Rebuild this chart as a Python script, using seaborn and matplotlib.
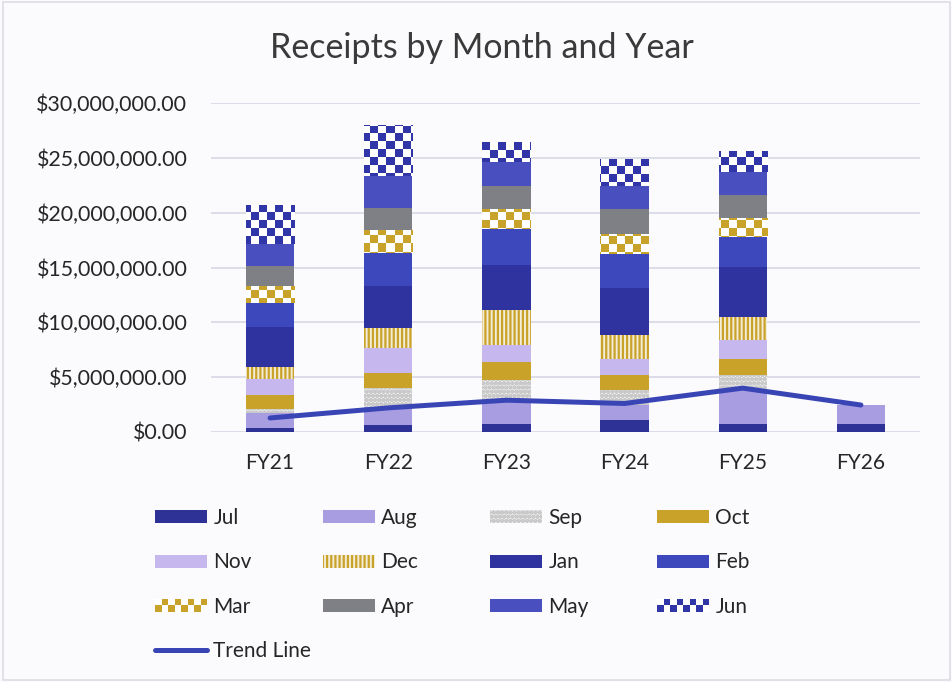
import numpy as np
import pandas as pd
import matplotlib
matplotlib.use("Agg")
import matplotlib.pyplot as plt
from matplotlib.patches import Patch, Rectangle
from matplotlib.lines import Line2D
from matplotlib.legend_handler import HandlerBase
import seaborn as sns

# ---------------- data ----------------
years = ["FY21", "FY22", "FY23", "FY24", "FY25", "FY26"]
months = ["Jul", "Aug", "Sep", "Oct", "Nov", "Dec", "Jan", "Feb", "Mar", "Apr", "May", "Jun"]

jul = [0.40, 0.60, 0.70, 1.07, 0.76, 0.76]
aug = [1.33, 1.70, 2.00, 1.43, 3.04, 1.67]
sep = [0.40, 1.70, 2.00, 1.30, 1.37, 0.0]
oct_ = [1.20, 1.40, 1.70, 1.37, 1.50, 0.0]
nov = [1.50, 2.30, 1.50, 1.50, 1.70, 0.0]
dec = [1.10, 1.80, 3.20, 2.20, 2.10, 0.0]
jan = [3.60, 3.80, 4.10, 4.30, 4.60, 0.0]
feb = [2.20, 3.00, 3.30, 3.10, 2.70, 0.0]
mar = [1.60, 2.10, 1.80, 1.80, 1.70, 0.0]
apr = [1.80, 2.00, 2.10, 2.30, 2.10, 0.0]
may = [2.00, 2.90, 2.20, 2.10, 2.10, 0.0]
jun = [3.60, 4.70, 1.80, 2.40, 1.95, 0.0]
trend = [1.28, 2.20, 2.90, 2.60, 4.00, 2.46]  # millions

series = [jul, aug, sep, oct_, nov, dec, jan, feb, mar, apr, may, jun]

styles = {
    "Jul": dict(face="#2e3196", hc="#2e3196", hatch=None, checker=None),
    "Aug": dict(face="#a99de2", hc="#a99de2", hatch=None, checker=None),
    "Sep": dict(face="#f2f2f2", hc="#c9c9c9", hatch="oooo", checker=None),
    "Oct": dict(face="#c9a22a", hc="#c9a22a", hatch=None, checker=None),
    "Nov": dict(face="#c6b8ee", hc="#c6b8ee", hatch=None, checker=None),
    "Dec": dict(face="#f4ecd6", hc="#c9a22a", hatch="||||", checker=None),
    "Jan": dict(face="#2f33a0", hc="#2f33a0", hatch=None, checker=None),
    "Feb": dict(face="#3d48bd", hc="#3d48bd", hatch=None, checker=None),
    "Mar": dict(face="#c9a22a", hc="#c9a22a", hatch=None, checker="#c9a22a"),
    "Apr": dict(face="#7f7f86", hc="#7f7f86", hatch=None, checker=None),
    "May": dict(face="#4a4fc0", hc="#4a4fc0", hatch=None, checker=None),
    "Jun": dict(face="#3035a8", hc="#3035a8", hatch=None, checker="#3035a8"),
}

sns.set_theme(style="white")
plt.rcParams["font.family"] = ["Lato", "DejaVu Sans"]
plt.rcParams["hatch.linewidth"] = 1.6

W, H, DPI = 953, 682, 100
BG = "#fbfbfd"
fig = plt.figure(figsize=(W / DPI, H / DPI), dpi=DPI, facecolor=BG)
ax = fig.add_axes([211 / W, 1 - 432 / H, (920 - 211) / W, (432 - 103) / H])
ax.set_facecolor(BG)

YMAX = 30e6
ax.set_ylim(0, YMAX)

bottom = np.zeros(len(years))
checker_patches = []
for name, vals in zip(months, series):
    st = styles[name]
    vals_d = np.array(vals) * 1e6
    n0 = len(ax.patches)
    sns.barplot(x=years, y=vals_d, ax=ax, color=st["face"], width=0.41,
                bottom=bottom.copy(), saturation=1, linewidth=0,
                edgecolor=st["hc"], errorbar=None, zorder=3)
    for p in ax.patches[n0:]:
        p.set_facecolor(st["face"])
        p.set_edgecolor(st["hc"])
        p.set_linewidth(0)
        if st["hatch"]:
            p.set_hatch(st["hatch"])
        if st["checker"]:
            checker_patches.append((p, st["checker"]))
    bottom += vals_d

ax.set_xlim(-0.5, len(years) - 0.5)

# checkerboard fills clipped to the Mar / Jun bars
aw, ah = 920 - 211, 432 - 103
cell = 8
ny, nx = int(np.ceil(ah / cell)), int(np.ceil(aw / cell))
cb = (np.add.outer(np.arange(ny), np.arange(nx)) % 2).astype(float)
for p, col in checker_patches:
    if p.get_height() <= 0:
        continue
    cmap = matplotlib.colors.ListedColormap(["#ffffff", col])
    im = ax.imshow(cb, cmap=cmap, extent=(-0.5, len(years) - 0.5, 0, YMAX),
                   aspect="auto", interpolation="nearest", zorder=3.5, origin="upper")
    im.set_clip_path(p)
ax.set_ylim(0, YMAX)
ax.set_xlim(-0.5, len(years) - 0.5)

# trend line
sns.lineplot(x=np.arange(len(years)), y=np.array(trend) * 1e6, ax=ax,
             color="#3a45b5", linewidth=3.6, zorder=5, legend=False,
             solid_capstyle="round")

# axes styling
ax.set_yticks(np.arange(0, YMAX + 1, 5e6))
ax.yaxis.set_major_formatter(matplotlib.ticker.FuncFormatter(lambda v, p: f"${v:,.2f}"))
ax.set_xticks(range(len(years)))
ax.set_xticklabels(years)
ax.grid(axis="y", color="#d8d8e6", linewidth=1.2, zorder=0)
ax.set_axisbelow(True)
for s in ax.spines.values():
    s.set_visible(False)
ax.tick_params(axis="y", length=0, pad=17, labelsize=15.4, labelcolor="#262626")
ax.tick_params(axis="x", length=0, pad=15, labelsize=15, labelcolor="#262626")
ax.set_xlabel("")
ax.set_ylabel("")

fig.text(482 / W, 1 - 48 / H, "Receipts by Month and Year", ha="center", va="center",
         fontsize=24.5, color="#3a3a3a")


# legend
class CheckerHandle:
    def __init__(self, color):
        self.color = color


class HandlerChecker(HandlerBase):
    def create_artists(self, legend, orig_handle, xdescent, ydescent, width, height,
                       fontsize, trans):
        arts = [Rectangle((-xdescent, -ydescent), width, height, facecolor="#ffffff",
                          edgecolor="none", transform=trans)]
        ncol = 8
        cw = width / ncol
        ch = height / 2
        for r in range(2):
            for c in range(ncol):
                if (r + c) % 2 == 0:
                    arts.append(Rectangle((-xdescent + c * cw, -ydescent + r * ch), cw, ch,
                                          facecolor=orig_handle.color, edgecolor="none",
                                          transform=trans))
        return arts


def handle(name):
    st = styles[name]
    if st["checker"]:
        return CheckerHandle(st["checker"])
    return Patch(facecolor=st["face"], edgecolor=st["hc"], hatch=st["hatch"], linewidth=0)


cols = [["Jul", "Nov", "Mar"], ["Aug", "Dec", "Apr"], ["Sep", "Jan", "May"], ["Oct", "Feb", "Jun"]]
col_x = [155, 323, 490, 657]
for ci, (names, cx) in enumerate(zip(cols, col_x)):
    hs = [handle(n) for n in names]
    labs = list(names)
    if ci == 0:
        hs.append(Line2D([0], [0], color="#3a45b5", linewidth=3.6, solid_capstyle="round"))
        labs.append("Trend Line")
    fig.legend(hs, labs, loc="upper left", bbox_to_anchor=(cx / W, 1 - 508 / H),
               frameon=False, fontsize=15, handlelength=2.5, handleheight=0.58,
               handletextpad=0.3, labelspacing=1.17, borderaxespad=0,
               borderpad=0, labelcolor="#262626",
               handler_map={CheckerHandle: HandlerChecker()})

fig.patches.append(Rectangle((0.003, 0.003), 0.994, 0.994, transform=fig.transFigure,
                             fill=False, edgecolor="#dcdce4", linewidth=1.2))

fig.savefig("out.png", dpi=DPI, facecolor=fig.get_facecolor())
